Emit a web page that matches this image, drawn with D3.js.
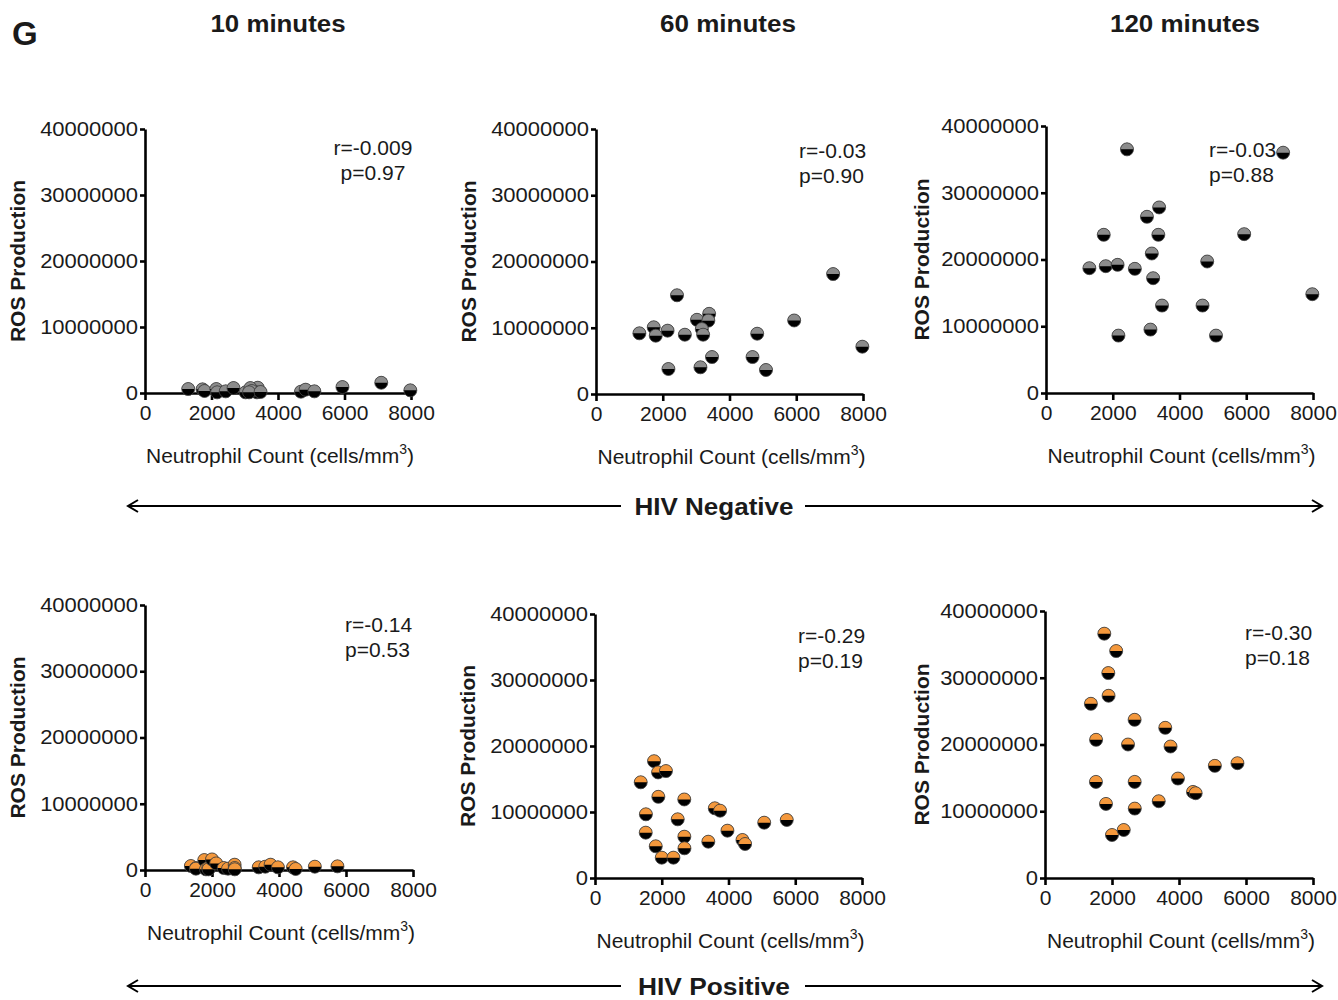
<!DOCTYPE html>
<html>
<head>
<meta charset="utf-8">
<script src="https://cdn.jsdelivr.net/npm/d3@7"></script>
<style>
  body { margin: 0; background: #fff; }
  svg text { font-family: Arial, "Liberation Sans", sans-serif; fill: #1a1a1a; }
</style>
</head>
<body>
<svg id="chart" width="1338" height="1000"></svg>
<script>
// ---- data ----
const timeLabels = ["10 minutes", "60 minutes", "120 minutes"];
const groupLabels = ["HIV Negative", "HIV Positive"];
const xTicks = [0, 2000, 4000, 6000, 8000];
const yTicks = [0, 10000000, 20000000, 30000000, 40000000];

// neutrophil counts (same subjects across time points)
const negCount = [1300, 1730, 1790, 2145, 2170, 2427, 2662, 3025, 3390, 3366,
                  3170, 3210, 3130, 3476, 4690, 4830, 5094, 5938, 7105, 7980];
const posCount = [1370, 1525, 1520, 1770, 1820, 1890, 1898, 2000, 2125, 2350, 2478,
                  2675, 2677, 2680, 3395, 3590, 3748, 3968, 4418, 4497, 5070, 5745];

// ROS production (millions)
const neg10 = [0.6, 0.55, 0.3, 0.6, 0.1, 0.25, 0.75, 0.1, 0.8, 0.1,
               0.75, 0.3, 0.1, 0.15, 0.2, 0.5, 0.25, 0.9, 1.55, 0.4];
const neg60 = [9.16, 10.07, 8.8, 9.56, 3.77, 14.9, 8.95, 11.2, 12.1, 11.07,
               9.8, 8.95, 4.03, 5.58, 5.58, 9.1, 3.62, 11.1, 18.1, 7.14];
const neg120 = [18.7, 23.7, 19.0, 19.2, 8.6, 36.5, 18.6, 26.4, 27.8, 23.7,
                20.9, 17.2, 9.5, 13.1, 13.1, 19.7, 8.6, 23.8, 36.0, 14.8];
const pos10 = [0.6, 0.3, 0.2, 1.5, 0.1, 0.3, 0.1, 1.6, 1.0, 0.3, 0.2,
               0.8, 0.3, 0.1, 0.4, 0.5, 0.8, 0.4, 0.4, 0.15, 0.5, 0.55];
const pos60 = [14.5, 9.65, 6.87, 17.7, 4.8, 16.0, 12.3, 3.08, 16.2, 3.08, 8.89,
               11.9, 6.26, 4.5, 5.5, 10.56, 10.2, 7.17, 5.76, 5.15, 8.38, 8.79];
const pos120 = [26.1, 20.7, 14.4, 36.6, 11.1, 30.7, 27.3, 6.44, 34.0, 7.19, 20.0,
                23.7, 14.4, 10.4, 11.5, 22.5, 19.7, 14.9, 12.9, 12.7, 16.8, 17.2];

const rLabels = ["r=-0.009", "r=-0.03", "r=-0.03", "r=-0.14", "r=-0.29", "r=-0.30"];
const pLabels = ["p=0.97", "p=0.90", "p=0.88", "p=0.53", "p=0.19", "p=0.18"];

// ---- layout ----
const panels = [
  { x: negCount, y: neg10,  fill: "#8c8c8c", x0: 145,  x1: 411,  yTop: 129, yZero: 393, yl: 18,  st: [373, 148], anchor: "middle" },
  { x: negCount, y: neg60,  fill: "#8c8c8c", x0: 596,  x1: 863,  yTop: 129, yZero: 394, yl: 469, st: [799, 151], anchor: "start" },
  { x: negCount, y: neg120, fill: "#8c8c8c", x0: 1046, x1: 1313, yTop: 126, yZero: 393, yl: 922, st: [1209, 150], anchor: "start" },
  { x: posCount, y: pos10,  fill: "#f4983c", x0: 145,  x1: 413,  yTop: 605, yZero: 870, yl: 18,  st: [345, 625], anchor: "start" },
  { x: posCount, y: pos60,  fill: "#f4983c", x0: 595,  x1: 862,  yTop: 614, yZero: 878, yl: 468, st: [798, 636], anchor: "start" },
  { x: posCount, y: pos120, fill: "#f4983c", x0: 1045, x1: 1313, yTop: 611, yZero: 878, yl: 922, st: [1245, 633], anchor: "start" }
];

const svg = d3.select("#chart");

// panel letter and column titles
svg.append("text").attr("x", 12).attr("y", 45)
  .style("font-size", "33px").style("font-weight", "bold").text("G");
const titleX = [278, 728, 1185];
const titleW = [135, 136, 150];
timeLabels.forEach((t, i) => {
  svg.append("text").attr("x", titleX[i]).attr("y", 32)
    .attr("text-anchor", "middle")
    .attr("textLength", titleW[i]).attr("lengthAdjust", "spacingAndGlyphs")
    .style("font-size", "23px").style("font-weight", "bold").text(t);
});

const halfArc = d3.arc().innerRadius(0).outerRadius(6.5)
  .startAngle(-Math.PI / 2).endAngle(Math.PI / 2);

panels.forEach((p, i) => {
  const x = d3.scaleLinear().domain([0, 8000]).range([p.x0, p.x1]);
  const y = d3.scaleLinear().domain([0, 40000000]).range([p.yZero, p.yTop]);

  // X axis
  const xa = svg.append("g")
    .attr("transform", "translate(0," + p.yZero + ")")
    .call(d3.axisBottom(x).tickValues(xTicks).tickFormat(d3.format("d")).tickSize(7).tickSizeOuter(0).tickPadding(5));
  // Y axis
  const ya = svg.append("g")
    .attr("transform", "translate(" + p.x0 + ",0)")
    .call(d3.axisLeft(y).tickValues(yTicks).tickFormat(d3.format("d")).tickSize(5).tickSizeOuter(0).tickPadding(2));
  [xa, ya].forEach(a => {
    a.select(".domain").attr("stroke", "#000").attr("stroke-width", 2.6);
    a.selectAll(".tick line").attr("stroke", "#000").attr("stroke-width", 2.6);
    a.selectAll("text").style("font-size", "21px").attr("fill", "#1a1a1a");
  });
  ya.selectAll("text").style("font-size", "20px").each(function () {
    const w = this.getComputedTextLength();
    d3.select(this).attr("textLength", w * 1.1).attr("lengthAdjust", "spacingAndGlyphs");
  });

  // axis titles
  svg.append("text")
    .attr("transform", "translate(" + p.yl + "," + ((p.yTop + p.yZero) / 2) + ")rotate(-90)")
    .attr("text-anchor", "middle").attr("dy", "0.35em")
    .style("font-size", "21px").style("font-weight", "bold")
    .text("ROS Production");
  const xl = svg.append("text")
    .attr("x", (p.x0 + p.x1) / 2 + 2).attr("y", p.yZero + 70)
    .attr("text-anchor", "middle").style("font-size", "21px");
  xl.append("tspan").text("Neutrophil Count (cells/mm");
  xl.append("tspan").attr("dy", -9).style("font-size", "14px").text("3");
  xl.append("tspan").attr("dy", 9).text(")");

  // stats
  svg.append("text").attr("x", p.st[0]).attr("y", p.st[1] + 7)
    .attr("text-anchor", p.anchor).style("font-size", "21px").text(rLabels[i]);
  svg.append("text").attr("x", p.st[0]).attr("y", p.st[1] + 32)
    .attr("text-anchor", p.anchor).style("font-size", "21px").text(pLabels[i]);

  // points: colored top half, black bottom half
  const pts = svg.append("g").selectAll("g")
    .data(p.x.map((d, j) => ({ cx: d, cy: p.y[j] * 1e6 })))
    .enter().append("g")
    .attr("transform", d => "translate(" + x(d.cx) + "," + y(d.cy) + ")");
  pts.append("circle").attr("r", 6.5).attr("fill", "#000");
  pts.append("path").attr("d", halfArc).attr("fill", p.fill);
  pts.append("circle").attr("r", 6.5).attr("fill", "none")
    .attr("stroke", "#444").attr("stroke-width", 0.8);
});

// group arrows
const arrowY = [506, 986];
groupLabels.forEach((g, i) => {
  const yy = arrowY[i];
  const grp = svg.append("g").attr("stroke", "#000").attr("stroke-width", 2).attr("fill", "none");
  grp.append("line").attr("x1", 128).attr("x2", 621).attr("y1", yy).attr("y2", yy);
  grp.append("line").attr("x1", 805).attr("x2", 1322).attr("y1", yy).attr("y2", yy);
  grp.append("path").attr("d", "M" + 138 + "," + (yy - 6) + "L128," + yy + "L" + 138 + "," + (yy + 6));
  grp.append("path").attr("d", "M" + 1312 + "," + (yy - 6) + "L1322," + yy + "L" + 1312 + "," + (yy + 6));
  svg.append("text").attr("x", 714).attr("y", yy + 9)
    .attr("text-anchor", "middle")
    .attr("textLength", i === 0 ? 159 : 152).attr("lengthAdjust", "spacingAndGlyphs")
    .style("font-size", "23px").style("font-weight", "bold").text(g);
});
</script>
</body>
</html>
